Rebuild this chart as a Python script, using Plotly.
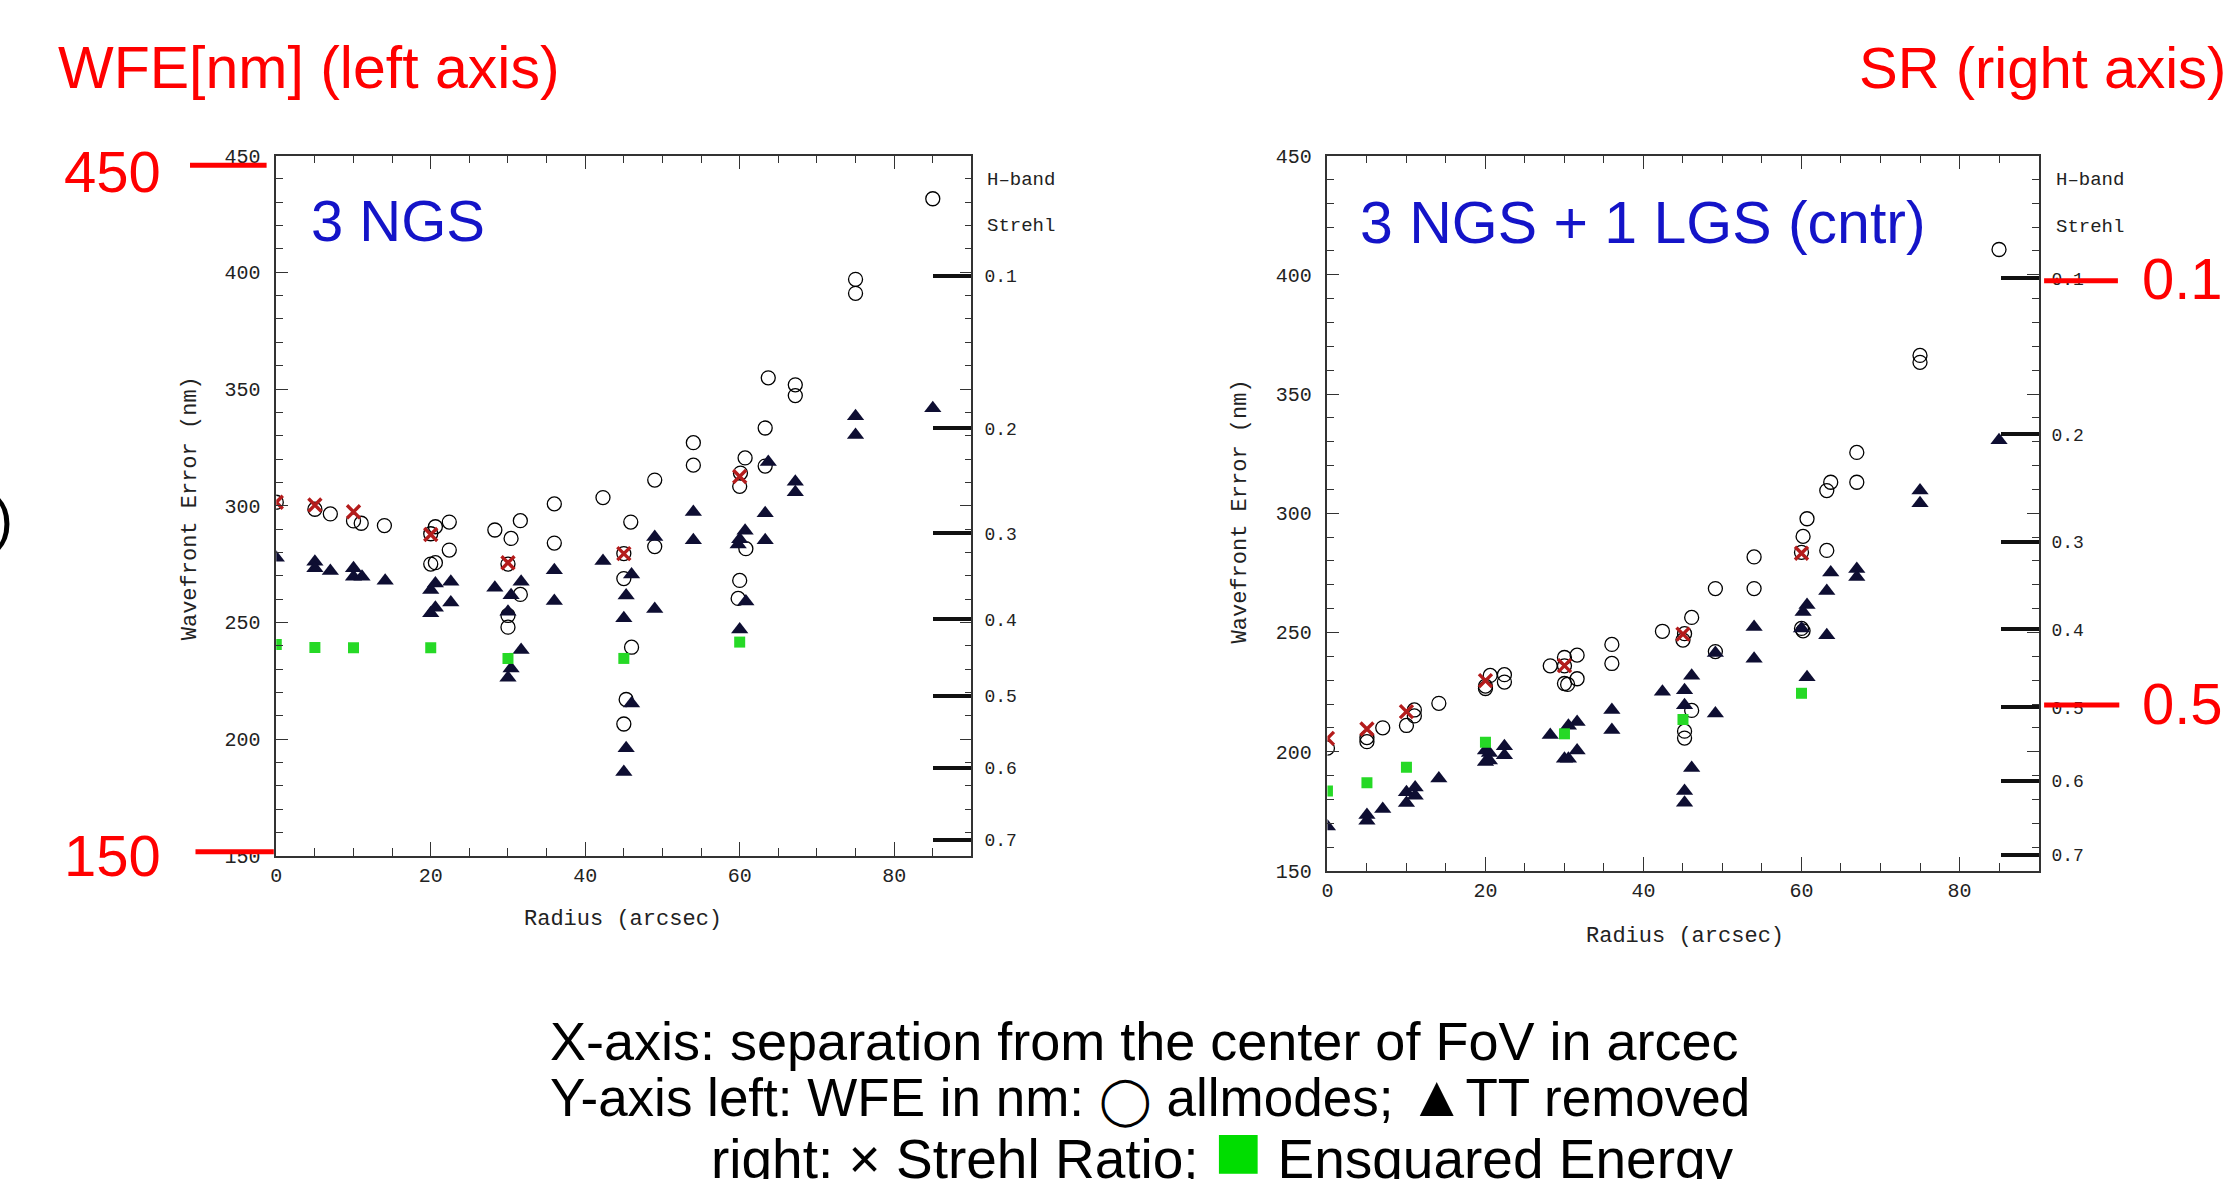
import numpy as np
import plotly.graph_objects as go

W, H = 2232, 1179


def px(x):
    return x / W


def py(y):
    return 1 - y / H


# page-pixel helpers (compensate the rendered page offset/scale)
def X(t):
    return px(t - 2)


def XL(t):
    return px(t - 6.5)


def Y(t):
    return py((t - 8.5) / 0.98)


def YT(t):
    return py((t - 2 - 8.5) / 0.98)


# ---------------- data: 3 NGS (left panel) ----------------
ngs_all_x = [0, 5, 7, 10, 11, 14, 20, 20, 20.6, 20.6, 22.4, 22.4, 28.3, 30.4, 31.6, 31.6, 30, 30, 30,
             36, 36, 42.3, 45.9, 45, 45, 46, 45.3, 45, 49, 49, 54, 54, 60.7, 60.1, 60, 60.8, 60, 59.8,
             63.3, 63.7, 63.3, 67.2, 67.2, 75, 75, 85]
ngs_all_y = [301.5, 298.5, 296.5, 293.5, 292.5, 291.5, 288, 275, 275.6, 291, 293, 281, 289.6, 286, 293.6, 262, 253, 248, 275,
             300.8, 284, 303.5, 293, 279.5, 268.8, 239.4, 217, 206.5, 311, 282.5, 327, 317.4, 320.5, 314, 308.3, 281.6, 268, 260.3,
             333.3, 354.8, 317, 351.8, 347.2, 397, 391, 431.5]

ngs_tt_x = [0, 5, 5, 7, 10, 10, 11.1, 14.1, 20, 20.6, 22.6, 20, 20.6, 22.6, 28.3, 30.4, 31.7, 30, 31.7, 30.4, 30,
            36, 36, 42.3, 46, 45.3, 45, 46, 45.3, 45, 49, 49, 54, 54, 60.7, 60, 59.8, 60.8, 60,
            63.3, 63.3, 63.7, 67.2, 67.2, 75, 75, 85]
ngs_tt_y = [277.7, 276, 273.2, 272, 273.2, 269.6, 269.6, 267.9, 263.9, 266.7, 267.4, 253.9, 256.3, 258.6, 264.9, 261.7, 267.4, 254.6, 238.2, 230.3, 226.3,
            272.4, 259.2, 276.3, 270.5, 261.6, 251.8, 215.3, 196.1, 186, 286.6, 255.8, 297.3, 285.2, 289.3, 285.7, 283.4, 259, 247,
            296.8, 285.2, 318.7, 310.3, 305.8, 338.3, 330.3, 341.8]

ngs_sr_x = [0, 5, 10, 20, 30, 45, 60]
ngs_sr_y = [301.5, 300.3, 297.4, 287.7, 275.6, 279.5, 312.5]   # plotted on Strehl (right) axis
ngs_ee_x = [0, 5, 10, 20, 30, 45, 60]
ngs_ee_y = [240.6, 239.3, 239.2, 239.2, 234.6, 234.6, 241.6]

# ---------------- data: 3 NGS + 1 LGS (right panel) ----------------
lgs_all_x = [0, 5, 5, 7, 10, 11, 11, 14.1, 20, 20, 20.6, 22.4, 22.4, 28.2, 30, 31.6, 30, 30.4, 31.6, 30,
             36, 36, 42.4, 45, 45.2, 46.1, 46.1, 45.2, 45.2, 49.1, 49.1, 54, 54,
             60.7, 60.2, 60, 60, 60.2, 63.2, 63.7, 63.2, 67, 67, 75, 75, 85]
lgs_all_y = [201.5, 205.9, 204.2, 210, 211, 217.5, 215, 220.3, 227.5, 226.5, 232, 232.3, 229.2, 236, 239.5, 240.5, 228.6, 228.2, 230.6, 236,
             245, 237, 250.5, 246.8, 249.5, 256.3, 217.3, 208.6, 205.7, 268.4, 242, 281.7, 268.4,
             297.7, 290.3, 283.6, 251.7, 250.7, 284.4, 313, 309.5, 325.5, 313, 366.2, 363.3, 410.6]

lgs_tt_x = [0, 5, 5, 7, 10, 10, 11.1, 11.1, 14.1, 20, 20.5, 20, 20.5, 22.4, 22.4, 28.2, 30.5, 31.6, 30, 30.5, 31.6,
            36, 36, 42.4, 45.2, 45.2, 46.1, 46.1, 45.2, 45.2, 49.1, 49.1, 54, 54,
            60.7, 60.2, 60, 60.7, 63.7, 63.2, 63.2, 67, 67, 75, 75, 85]
lgs_tt_y = [168.6, 173.5, 171, 176, 178.5, 183, 185, 181.5, 188.8, 200.5, 199.5, 195.7, 196.3, 202.3, 198.5, 207, 210.9, 212.5, 197, 197, 200.5,
            217.5, 209.1, 225.1, 225.8, 219.5, 231.8, 193.2, 183.5, 178.6, 241.4, 216, 252.3, 239,
            261.5, 258.6, 251.7, 231.2, 275.2, 267.4, 248.8, 276.6, 273.3, 309.5, 304.2, 330.6]

lgs_sr_x = [0, 5, 10, 20, 30, 45, 60]
lgs_sr_y = [205.6, 209.5, 216.8, 229.8, 236.1, 249.3, 283.2]
lgs_ee_x = [0, 5, 10, 20, 30, 45, 60]
lgs_ee_y = [183.5, 187, 193.5, 204, 207.5, 213.5, 224.5]

# Strehl axis (H band, lambda = 1650 nm, Marechal relation)
strehl_labels = ["0.1", "0.2", "0.3", "0.4", "0.5", "0.6", "0.7"]
strehl_vals = [0.1, 0.2, 0.3, 0.4, 0.5, 0.6, 0.7]
LAMBDA_H = 1650.0
strehl_pos = [LAMBDA_H / (2 * np.pi) * np.sqrt(-np.log(s)) for s in strehl_vals]

PLOT_FONT = "Liberation Mono"
SANS = "Liberation Sans"
AXC = "#333333"
TXC = "#222222"
TRI_C = "#0e0e32"
GREEN = "#26d926"
XRED = "#b41c1c"


def panel(xa, ya, ysr, ax, ay, tx, ty, sx, sy, ex, ey):
    return [
        go.Scatter(x=ax, y=ay, mode="markers", xaxis=xa, yaxis=ya, showlegend=False,
                   marker=dict(symbol="circle-open", size=14, color="black", line=dict(width=1.3, color="black"))),
        go.Scatter(x=tx, y=ty, mode="markers", xaxis=xa, yaxis=ya, showlegend=False,
                   marker=dict(symbol="triangle-up", size=15, color=TRI_C, line=dict(width=0))),
        go.Scatter(x=ex, y=ey, mode="markers", xaxis=xa, yaxis=ysr, showlegend=False,
                   marker=dict(symbol="square", size=11, color=GREEN, line=dict(width=0))),
        go.Scatter(x=sx, y=sy, mode="markers", xaxis=xa, yaxis=ysr, showlegend=False,
                   marker=dict(symbol="x-thin", size=13, color=XRED, line=dict(width=3.4, color=XRED))),
    ]


traces = panel("x", "y", "y3", ngs_all_x, ngs_all_y, ngs_tt_x, ngs_tt_y, ngs_sr_x, ngs_sr_y, ngs_ee_x, ngs_ee_y)
traces += panel("x2", "y2", "y4", lgs_all_x, lgs_all_y, lgs_tt_x, lgs_tt_y, lgs_sr_x, lgs_sr_y, lgs_ee_x, lgs_ee_y)

fig = go.Figure(traces)


def xaxis_cfg(dom, anchor):
    return dict(domain=dom, anchor=anchor, range=[0, 90], showline=True, linecolor=AXC, linewidth=1.5,
                mirror="ticks", ticks="inside", ticklen=14, tickwidth=1.3, tickcolor=AXC,
                tick0=0, dtick=20, showgrid=False, zeroline=False, ticklabelstandoff=0,
                tickfont=dict(family=PLOT_FONT, size=20, color=TXC),
                minor=dict(dtick=5, ticklen=8, tickwidth=1.2, tickcolor=AXC, ticks="inside", showgrid=False))


def yaxis_cfg(dom, anchor):
    return dict(domain=dom, anchor=anchor, range=[150, 450], showline=True, linecolor=AXC, linewidth=1.5,
                mirror="ticks", ticks="inside", ticklen=12, tickwidth=1.3, tickcolor=AXC,
                tick0=150, dtick=50, showgrid=False, zeroline=False, ticklabelstandoff=10,
                tickfont=dict(family=PLOT_FONT, size=20, color=TXC),
                minor=dict(dtick=10, ticklen=7, tickwidth=1.2, tickcolor=AXC, ticks="inside", showgrid=False))


def sr_axis_cfg(over, anchor):
    return dict(overlaying=over, anchor=anchor, side="right", range=[150, 450], showline=False,
                showgrid=False, zeroline=False, ticks="inside", ticklen=38, tickwidth=4, tickcolor="#111111",
                tickvals=strehl_pos, ticktext=strehl_labels, ticklabelstandoff=12,
                tickfont=dict(family=PLOT_FONT, size=18, color=TXC))


fig.update_layout(
    width=W, height=H, autosize=False, margin=dict(l=0, r=0, t=0, b=0),
    paper_bgcolor="white", plot_bgcolor="white", showlegend=False,
    xaxis=xaxis_cfg([X(273), X(970)], "y"),
    yaxis=yaxis_cfg([Y(854), Y(154)], "x"),
    xaxis2=xaxis_cfg([X(1327), X(2040)], "y2"),
    yaxis2=yaxis_cfg([Y(869), Y(154)], "x2"),
    yaxis3=sr_axis_cfg("y", "x"),
    yaxis4=sr_axis_cfg("y2", "x2"),
)

ann = []


def text(x, y, s, size, color, family=SANS, xanchor="left", angle=0):
    ann.append(dict(x=x, y=y, xref="paper", yref="paper", text=s, showarrow=False,
                    xanchor=xanchor, yanchor="middle", textangle=angle,
                    font=dict(family=family, size=size, color=color)))


# axis titles and right-axis headers (PGPLOT style)
text(X(187), Y(507), "Wavefront Error (nm)", 22, TXC, PLOT_FONT, "center", -90)
text(X(1240), Y(510), "Wavefront Error (nm)", 22, TXC, PLOT_FONT, "center", -90)
text(X(621), Y(918), "Radius (arcsec)", 22, TXC, PLOT_FONT, "center")
text(X(1686), Y(935), "Radius (arcsec)", 22, TXC, PLOT_FONT, "center")
text(X(984), Y(178), "H\u2013band", 19, TXC, PLOT_FONT)
text(X(984), Y(224), "Strehl", 19, TXC, PLOT_FONT)
text(X(2056), Y(178), "H\u2013band", 19, TXC, PLOT_FONT)
text(X(2056), Y(225), "Strehl", 19, TXC, PLOT_FONT)

# panel labels
text(XL(310), YT(220.6), "3 NGS", 58, "#1414c8")
text(XL(1362), YT(223.5), "3 NGS + 1 LGS (cntr)", 59, "#1414c8")

# red slide overlays
text(XL(57), YT(68), "WFE[nm] (left axis)", 59, "#ff0000")
text(XL(1862), YT(68), "SR (right axis)", 58, "#ff0000")
text(XL(62.6), YT(172), "450", 58, "#ff0000")
text(XL(62.6), YT(855.5), "150", 58, "#ff0000")
text(XL(2146.6), YT(279), "0.1", 58, "#ff0000")
text(XL(2146), YT(703.2), "0.5", 58, "#ff0000")
text(px(9), YT(519.6), ")", 57, "black", SANS, "right")

# explanation lines
circ = "<span style='font-size:47px'>\u25ef</span>"
tri = "<span style='font-size:58px'>\u25b2</span>"
sq = "<span style='color:#00dd00;font-size:80px'>\u25a0</span>"
text(XL(549.5), YT(1040.6), "X-axis: separation from the center of FoV in arcec", 54, "black")
text(XL(549.5), YT(1095.5), "Y-axis left: WFE in nm: " + circ + " allmodes; " + tri + "TT removed", 53, "black")
text(XL(711.7), YT(1150), "right: \u00d7 Strehl Ratio;\u00a0" + sq + "\u00a0Ensquared Energy", 55, "black")

shapes = []
for (x0, x1, y) in [(186.5, 263.3, 163.7), (192, 270.5, 849.8), (2045.6, 2119.6, 279), (2045.6, 2121, 703.2)]:
    shapes.append(dict(type="line", xref="paper", yref="paper", x0=X(x0), x1=X(x1), y0=Y(y), y1=Y(y),
                       line=dict(color="#ff0000", width=5)))

fig.update_layout(annotations=ann, shapes=shapes)
fig.write_html(
    "out.html",
    config={"displayModeBar": False},
    post_script="document.body.style.margin='0';document.body.style.padding='0';"
                "document.documentElement.style.overflow='hidden';",
)
